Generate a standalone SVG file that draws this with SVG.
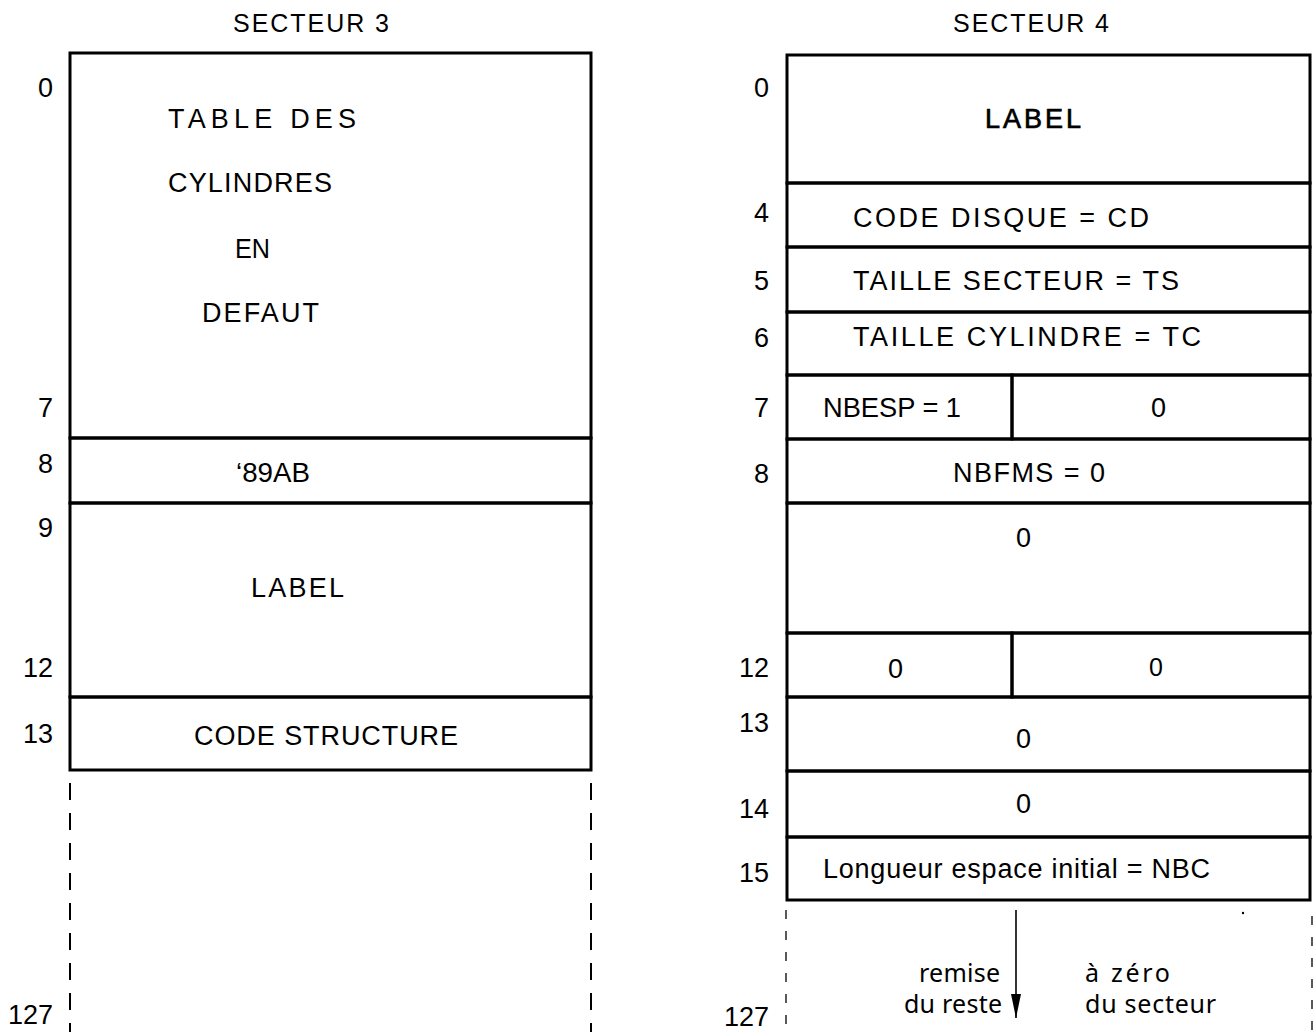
<svg xmlns="http://www.w3.org/2000/svg" width="1316" height="1032" viewBox="0 0 1316 1032">
<style>
  .cell { fill: none; stroke: #000; stroke-width: 3; }
  .t { font-family: "Liberation Sans", Arial, sans-serif; font-size: 27px; fill: #000; }
  .n { font-family: "Liberation Sans", Arial, sans-serif; font-size: 27px; fill: #000; text-anchor: end; }
  .h { font-family: "Noto Sans", "Open Sans", sans-serif; font-size: 25px; fill: #000; }
  .dashL { stroke: #000; stroke-width: 2; stroke-dasharray: 17 13; fill: none; }
  .dashR { stroke: #000; stroke-width: 1.3; stroke-dasharray: 9 12; fill: none; }
  .arrow { stroke: #000; stroke-width: 1.6; fill: none; }
</style>
<defs>
  <marker id="ah" viewBox="0 0 24 10" refX="24" refY="5" markerWidth="24" markerHeight="10" markerUnits="userSpaceOnUse" orient="auto">
    <path d="M0,0 L24,5 L0,10 z" fill="#000"/>
  </marker>
</defs>
<rect width="1316" height="1032" fill="#fff"/>

<!-- SECTEUR 3 -->
<text class="t" x="233" y="32" textLength="156" lengthAdjust="spacing" style="font-size:25px">SECTEUR 3</text>
<g id="s3-table">
  <rect class="cell" x="70" y="53" width="521" height="385"/>
  <text class="t" x="168" y="128" textLength="188" lengthAdjust="spacing">TABLE DES</text>
  <text class="t" x="168" y="192" textLength="164" lengthAdjust="spacing">CYLINDRES</text>
  <text class="t" x="235" y="258" textLength="35" lengthAdjust="spacingAndGlyphs">EN</text>
  <text class="t" x="202" y="322" textLength="117" lengthAdjust="spacing">DEFAUT</text>
</g>
<g id="s3-89ab">
  <rect class="cell" x="70" y="438" width="521" height="65"/>
  <text class="t" x="236" y="482" textLength="74" lengthAdjust="spacingAndGlyphs">‘89AB</text>
</g>
<g id="s3-label">
  <rect class="cell" x="70" y="503" width="521" height="194"/>
  <text class="t" x="251" y="597" textLength="93" lengthAdjust="spacing">LABEL</text>
</g>
<g id="s3-code">
  <rect class="cell" x="70" y="697" width="521" height="73"/>
  <text class="t" x="194" y="745" textLength="264" lengthAdjust="spacing">CODE STRUCTURE</text>
</g>
<g id="s3-rest">
  <line class="dashL" x1="70" y1="783" x2="70" y2="1032"/>
  <line class="dashL" x1="591" y1="783" x2="591" y2="1032"/>
</g>
<g id="s3-index">
  <text class="n" x="53" y="97">0</text>
  <text class="n" x="53" y="417">7</text>
  <text class="n" x="53" y="473">8</text>
  <text class="n" x="53" y="537">9</text>
  <text class="n" x="53" y="677">12</text>
  <text class="n" x="53" y="743">13</text>
  <text class="n" x="53" y="1024">127</text>
</g>

<!-- SECTEUR 4 -->
<text class="t" x="953" y="32" textLength="156" lengthAdjust="spacing" style="font-size:25px">SECTEUR 4</text>
<g id="s4-label">
  <rect class="cell" x="787" y="55" width="523" height="128"/>
  <text class="t" x="985" y="128" textLength="96" lengthAdjust="spacing" stroke="#000" stroke-width="0.7">LABEL</text>
</g>
<g id="s4-cd">
  <rect class="cell" x="787" y="183" width="523" height="64"/>
  <text class="t" x="853" y="227" textLength="296" lengthAdjust="spacing">CODE DISQUE = CD</text>
</g>
<g id="s4-ts">
  <rect class="cell" x="787" y="247" width="523" height="65"/>
  <text class="t" x="853" y="290" textLength="326" lengthAdjust="spacing">TAILLE SECTEUR = TS</text>
</g>
<g id="s4-tc">
  <rect class="cell" x="787" y="312" width="523" height="63"/>
  <text class="t" x="853" y="346" textLength="348" lengthAdjust="spacing">TAILLE CYLINDRE = TC</text>
</g>
<g id="s4-nbesp">
  <rect class="cell" x="787" y="375" width="225" height="64"/>
  <text class="t" x="823" y="417" textLength="138" lengthAdjust="spacingAndGlyphs">NBESP = 1</text>
</g>
<g id="s4-r7b">
  <rect class="cell" x="1012" y="375" width="298" height="64"/>
  <text class="t" x="1151" y="417">0</text>
</g>
<g id="s4-nbfms">
  <rect class="cell" x="787" y="439" width="523" height="64"/>
  <text class="t" x="953" y="482" textLength="152" lengthAdjust="spacing">NBFMS = 0</text>
</g>
<g id="s4-r9">
  <rect class="cell" x="787" y="503" width="523" height="130"/>
  <text class="t" x="1016" y="547">0</text>
</g>
<g id="s4-r12a">
  <rect class="cell" x="787" y="633" width="225" height="64"/>
  <text class="t" x="888" y="678">0</text>
</g>
<g id="s4-r12b">
  <rect class="cell" x="1012" y="633" width="298" height="64"/>
  <text class="t" x="1149" y="676" style="font-size:25px">0</text>
</g>
<g id="s4-r13">
  <rect class="cell" x="787" y="697" width="523" height="74"/>
  <text class="t" x="1016" y="748">0</text>
</g>
<g id="s4-r14">
  <rect class="cell" x="787" y="771" width="523" height="66"/>
  <text class="t" x="1016" y="813">0</text>
</g>
<g id="s4-r15">
  <rect class="cell" x="787" y="837" width="523" height="63"/>
  <text class="t" x="823" y="878" textLength="387" lengthAdjust="spacing">Longueur espace initial = NBC</text>
</g>
<g id="s4-rest">
  <line class="dashR" x1="786" y1="910" x2="786" y2="1032"/>
  <line class="dashR" x1="1312" y1="916" x2="1312" y2="1032"/>
  <circle cx="1243" cy="913" r="1.2" fill="#000"/>
  <text class="h" x="919" y="982" textLength="81" lengthAdjust="spacing">remise</text>
  <text class="h" x="904" y="1013" textLength="98" lengthAdjust="spacing">du reste</text>
  <text class="h" x="1085" y="982" textLength="85" lengthAdjust="spacing">à zéro</text>
  <text class="h" x="1085" y="1013" textLength="131" lengthAdjust="spacing">du secteur</text>
</g>
<g id="s4-index">
  <text class="n" x="769" y="97">0</text>
  <text class="n" x="769" y="222">4</text>
  <text class="n" x="769" y="290">5</text>
  <text class="n" x="769" y="347">6</text>
  <text class="n" x="769" y="417">7</text>
  <text class="n" x="769" y="483">8</text>
  <text class="n" x="769" y="677">12</text>
  <text class="n" x="769" y="732">13</text>
  <text class="n" x="769" y="818">14</text>
  <text class="n" x="769" y="882">15</text>
  <text class="n" x="769" y="1026">127</text>
</g>

<g id="connectors">
  <line class="arrow" x1="1016" y1="910" x2="1016" y2="1018" marker-end="url(#ah)"/>
</g>
</svg>
